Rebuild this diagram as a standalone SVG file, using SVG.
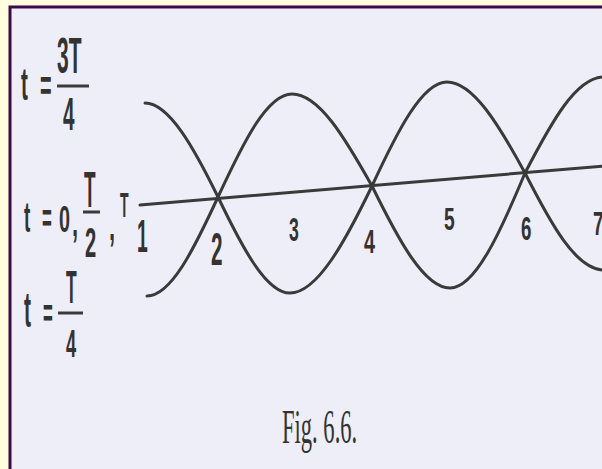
<svg xmlns="http://www.w3.org/2000/svg" width="602" height="469" viewBox="0 0 602 469">
<style>
.s{font-family:"Liberation Sans",Arial,sans-serif;fill:#333;font-weight:bold;}
.f{font-family:"Liberation Serif","Times New Roman",serif;fill:#333;}
.w{fill:none;stroke:#3a3a3a;stroke-width:3;stroke-linecap:round;}
.bar{stroke:#3a3a3a;stroke-width:3;}
</style>
<rect x="0" y="0" width="602" height="469" fill="#FFFFE0"/>
<rect x="10" y="7" width="600" height="470" fill="#EEEEF9" stroke="#3d0a48" stroke-width="3"/>

<g id="connectors">
  <line id="axis" x1="140" y1="205" x2="604" y2="166" class="w" stroke-width="3.2"/>
  <path id="upper" class="w" d="M145,103 C169,103 194,148 218,197 C243,143 267,94 292,94 C319,94 345,138 372,186 C397,132 422,82 447,82 C473,82 499,125 525,173 C551,123 576,77 604,77"/>
  <path id="lower" class="w" d="M147,296 C171,296 194,249 218,197 C242,247 266,293 290,293 C317,293 345,242 372,186 C398,239 424,288 450,288 C475,288 500,233 525,173 C551,224 576,270 604,270"/>
</g>

<g id="label-3T4">
  <text class="s" font-size="46" transform="translate(21,100) scale(0.45,1)">t</text>
  <text class="s" font-size="44" transform="translate(40,101) scale(0.45,1)">=</text>
  <text class="s" font-size="50" transform="translate(57,73) scale(0.42,1)">3T</text>
  <line class="bar" x1="57" y1="86" x2="89" y2="86"/>
  <text class="s" font-size="46" transform="translate(63,130) scale(0.45,1)">4</text>
</g>

<g id="label-0T2T">
  <text class="s" font-size="42" transform="translate(24,232) scale(0.45,1)">t</text>
  <text class="s" font-size="40" transform="translate(42,232) scale(0.42,1)">=</text>
  <text class="s" font-size="36" transform="translate(59,232) scale(0.55,1)">0</text>
  <text class="s" font-size="40" transform="translate(72,236) scale(0.55,1)">,</text>
  <text class="s" font-size="50" transform="translate(84,207) scale(0.38,1)">T</text>
  <line class="bar" x1="83" y1="212" x2="100" y2="212"/>
  <text class="s" font-size="42" transform="translate(85,257) scale(0.48,1)">2</text>
  <text class="s" font-size="40" transform="translate(109,240) scale(0.55,1)">,</text>
  <text class="s" font-size="35" transform="translate(120,217) scale(0.4,1)">T</text>
</g>

<g id="label-T4">
  <text class="s" font-size="50" transform="translate(24,327) scale(0.42,1)">t</text>
  <text class="s" font-size="40" transform="translate(43,327) scale(0.42,1)">=</text>
  <text class="s" font-size="46" transform="translate(66,303) scale(0.38,1)">T</text>
  <line class="bar" x1="58" y1="313" x2="83" y2="313"/>
  <text class="s" font-size="38" transform="translate(66,357) scale(0.48,1)">4</text>
</g>

<g id="numbers">
  <text class="s" font-size="46" transform="translate(137,252) scale(0.42,1)">1</text>
  <text class="s" font-size="46" transform="translate(211,265) scale(0.45,1)">2</text>
  <text class="s" font-size="34" transform="translate(289,241) scale(0.52,1)">3</text>
  <text class="s" font-size="33" transform="translate(364,253) scale(0.6,1)">4</text>
  <text class="s" font-size="31" transform="translate(444,230) scale(0.62,1)">5</text>
  <text class="s" font-size="34" transform="translate(521,240) scale(0.55,1)">6</text>
  <text class="s" font-size="34" transform="translate(593,235) scale(0.55,1)">7</text>
</g>

<g id="caption">
  <text class="f" font-size="48" transform="translate(282,443) scale(0.47,1)">Fig. 6.6.</text>
</g>
</svg>
